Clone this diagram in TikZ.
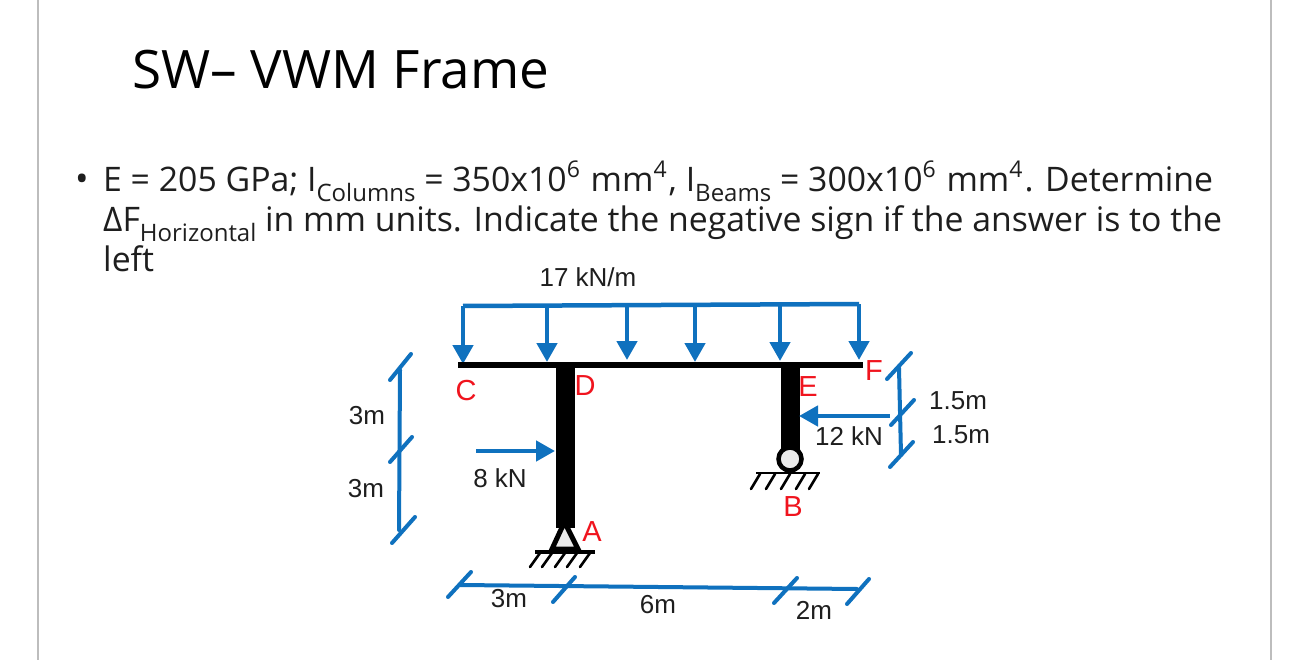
\documentclass[tikz,border=0pt]{standalone}
\usepackage{fontspec}
\setmainfont{Liberation Sans}
\newfontfamily\bodyfont{Open Sans}
\usetikzlibrary{arrows.meta}
\definecolor{loadblue}{HTML}{0F71BE}
\definecolor{labelred}{HTML}{F0141E}
\definecolor{inkdark}{HTML}{1E1E1E}
\definecolor{slideedge}{HTML}{BDBDBD}
\definecolor{supportfill}{HTML}{EAEAEA}
\newcommand{\upidx}[1]{\raisebox{0.42em}{\fontsize{23}{23}\selectfont #1}\kern2pt\relax}
\newcommand{\dnidx}[1]{\raisebox{-0.27em}{\fontsize{24}{24}\selectfont #1}}
\tikzset{
  loadline/.style={draw=loadblue,line width=4.5pt},
  loadarrow/.style={loadline,-{Triangle[length=19pt,width=20pt]}},
  dimline/.style={draw=loadblue,line width=4pt,line cap=round},
  member/.style={draw=black,line cap=butt},
  hatch/.style={draw=black,line width=2.6pt,line cap=round},
  textlabel/.style={anchor=base,font=\fontsize{26}{26}\selectfont,text=inkdark,inner sep=0pt},
  pointlabel/.style={anchor=base,font=\fontsize{29}{29}\selectfont,text=labelred,inner sep=0pt},
  bodyline/.style={anchor=base west,font=\bodyfont\fontsize{33.8}{33.8}\selectfont,text=inkdark,inner sep=0pt},
}
\begin{document}
\begin{tikzpicture}[x=1pt,y=-1pt]
\useasboundingbox (0,0) rectangle (1290,660);
\fill[white] (0,0) rectangle (1290,660);
\coordinate (edgeLtop) at (38,0); \coordinate (edgeLbot) at (38,660);
\coordinate (edgeRtop) at (1271,0); \coordinate (edgeRbot) at (1271,660);
\draw[slideedge,line width=1.2pt] (edgeLtop) -- (edgeLbot);
\draw[slideedge,line width=1.2pt] (edgeRtop) -- (edgeRbot);

\node[anchor=base west,inner sep=0pt,font=\bodyfont\fontsize{53}{53}\selectfont,text=black] (title) at (132,89) {SW– VWM Frame};
\node[anchor=base west,inner sep=0pt,font=\bodyfont\fontsize{36}{36}\selectfont,text=inkdark] (bullet) at (75,192) {•};
\node[bodyline] (line1) at (103,192) {E = 205 GPa; I\dnidx{Columns} = 350x10\upidx{6} mm\upidx{4}, I\dnidx{Beams} = 300x10\upidx{6} mm\upidx{4}. Determine};
\node[bodyline] (line2) at (103,232) {ΔF\dnidx{Horizontal} in mm units. Indicate the negative sign if the answer is to the};
\node[bodyline] (line3) at (103,272) {left};

% load
\coordinate (loadC) at (463,306); \coordinate (tipC) at (463,364);
\coordinate (load2) at (547,306); \coordinate (tip2) at (547,362);
\coordinate (load3) at (627,306); \coordinate (tip3) at (627,360);
\coordinate (load4) at (695,306); \coordinate (tip4) at (695,362);
\coordinate (load5) at (780,306); \coordinate (tip5) at (780,361);
\coordinate (loadF) at (859,304); \coordinate (tipF) at (859,360);
\draw[loadline] (loadC) -- (loadF);
\foreach \a/\b in {loadC/tipC,load2/tip2,load3/tip3,load4/tip4,load5/tip5,loadF/tipF}
  \draw[loadarrow] (\a) -- (\b);

% frame
\coordinate (C) at (458,365); \coordinate (F) at (863,365);
\coordinate (D) at (565,365); \coordinate (A) at (565,528);
\coordinate (E) at (790,365); \coordinate (Btop) at (790,452);
\draw[member,line width=6pt] (C) -- (F);
\draw[member,line width=19pt] (D) -- (A);
\draw[member,line width=19pt] (E) -- (Btop);

% support A
\coordinate (Aapex) at (564.5,522); \coordinate (Aleft) at (552,549); \coordinate (Aright) at (578,549);
\draw[black,fill=supportfill,line width=5pt,line join=miter] (Aapex) -- (Aleft) -- (Aright) -- cycle;
\coordinate (gAl) at (535,552); \coordinate (gAr) at (595,552);
\draw[black,line width=3.2pt] (gAl) -- (gAr);
\foreach \x in {540,552,565,577,590}{
  \draw[hatch] (\x,553) -- ++(-10,14);
}
% support B
\node[circle,draw=black,fill=supportfill,line width=4.5pt,minimum size=23pt,inner sep=0pt] (pinB) at (790,459) {};
\coordinate (gBl) at (756,473); \coordinate (gBr) at (820,473);
\draw[black,line width=2.4pt] (gBl) -- (gBr);
\foreach \x in {760,775,790,805,818}{
  \draw[hatch] (\x,474) -- ++(-9,15);
}

% point loads
\coordinate (p8s) at (476,451); \coordinate (p8e) at (555,451);
\draw[loadarrow] (p8s) -- (p8e);
\coordinate (p12s) at (890,416); \coordinate (p12e) at (799,416);
\draw[loadarrow] (p12s) -- (p12e);

% left dimension
\coordinate (dLt) at (400,370); \coordinate (dLb) at (399,530);
\draw[dimline] (dLt) -- (dLb);
\draw[dimline] (390,380) -- (411,354);
\draw[dimline] (390,462) -- (412,437);
\draw[dimline] (392,543) -- (415,517);

% right dimension
\coordinate (dRt) at (899,368); \coordinate (dRb) at (901,455);
\draw[dimline] (dRt) -- (dRb);
\draw[dimline] (887,379) -- (911,353);
\draw[dimline] (891,425) -- (914,400);
\draw[dimline] (890,467) -- (913,442);

% bottom dimension
\coordinate (dBl) at (460,585); \coordinate (dBr) at (857,589);
\draw[dimline] (dBl) -- (dBr);
\draw[dimline] (448,597) -- (471,572);
\draw[dimline] (553,602) -- (575,577);
\draw[dimline] (774,603) -- (797,578);
\draw[dimline] (847,604) -- (869,579);

% text labels
\node[textlabel] (q) at (588,287) {17 kN/m};
\node[textlabel] (f8) at (500,487) {8 kN};
\node[textlabel] (f12) at (849,445) {12 kN};
\node[textlabel] (l3a) at (367,424) {3m};
\node[textlabel] (l3b) at (366,497) {3m};
\node[textlabel] (l15a) at (958,409) {1.5m};
\node[textlabel] (l15b) at (961,443) {1.5m};
\node[textlabel] (l3c) at (509,607) {3m};
\node[textlabel] (l6) at (658,613) {6m};
\node[textlabel] (l2) at (814,619) {2m};
% point labels
\node[pointlabel] (lC) at (466,400) {C};
\node[pointlabel] (lD) at (585,395) {D};
\node[pointlabel] (lE) at (808,396) {E};
\node[pointlabel] (lF) at (874,380) {F};
\node[pointlabel] (lA) at (592,541) {A};
\node[pointlabel] (lB) at (793,516) {B};
\end{tikzpicture}
\end{document}
